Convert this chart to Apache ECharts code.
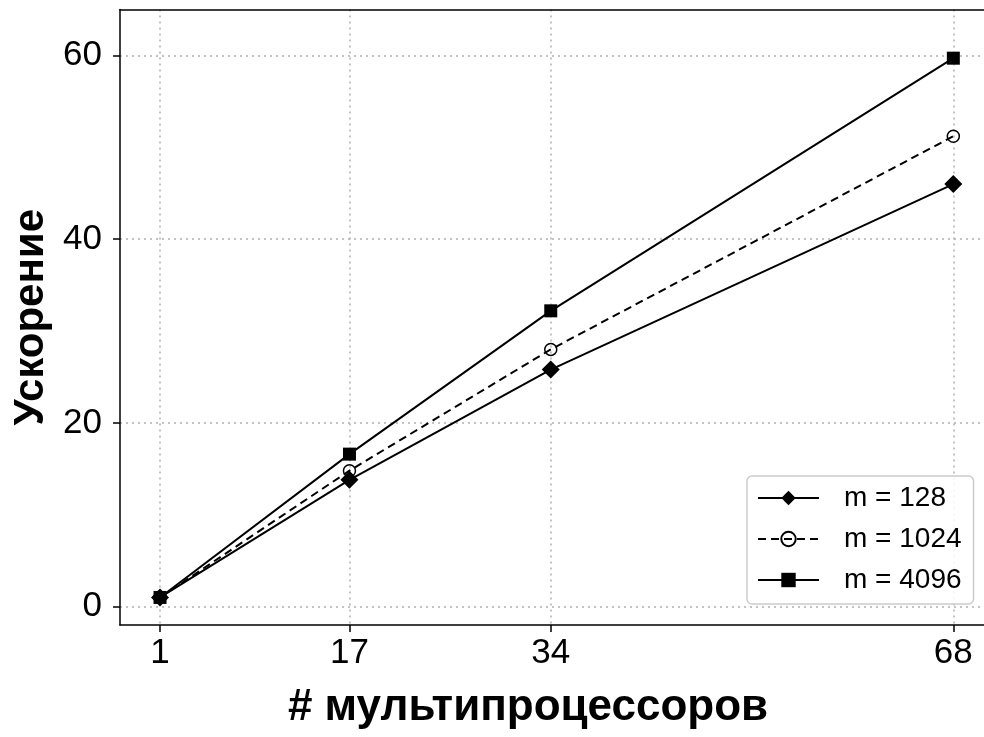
<!DOCTYPE html>
<html style="height: 100%">
<head>
    <meta charset="utf-8">
    <script src="https://cdn.jsdelivr.net/npm/echarts@6/dist/echarts.min.js"></script>
</head>
<body style="height: 100%; margin: 0; background: #fff">
<div id="container" style="width: 984px; height: 737px"></div>
<script type="text/javascript">
// multiprocessor counts and speedups per m
var procs = [1, 17, 34, 68];
var xTicks = [1, 17, 34, 68];
var yTicks = [0, 20, 40, 60];
var names = ['m = 128', 'm = 1024', 'm = 4096'];
var m128 = [1, 13.8, 25.8, 46.0];
var m1024 = [1, 14.8, 28.0, 51.2];
var m4096 = [1, 16.6, 32.2, 59.7];

var font = 'Liberation Sans, Arial, Helvetica, sans-serif';
var axisLineStyle = { color: '#000', width: 1.5 };
var gridLine = { show: true, lineStyle: { color: '#b0b0b0', width: 1.5, type: [2, 4] } };

function pairs(ys) {
    return procs.map(function (x, i) { return [x, ys[i]]; });
}

var dom = document.getElementById('container');
var myChart = echarts.init(dom, null, { renderer: 'canvas' });

var option = {
    animation: false,
    backgroundColor: '#fff',
    grid: { left: 120, right: 0, top: 9.5, bottom: 112 },
    xAxis: [{
        type: 'value',
        min: -2.38, max: 70.59,
        name: '# мультипроцессоров',
        nameLocation: 'middle',
        nameGap: 61,
        nameTextStyle: { fontFamily: font, fontSize: 44, fontWeight: 'bold', color: '#000', padding: [0, 48, 0, 0] },
        axisLine: { show: true, onZero: false, lineStyle: axisLineStyle },
        axisTick: { show: true, length: 7, lineStyle: axisLineStyle, customValues: xTicks },
        axisLabel: { fontFamily: font, fontSize: 35, color: '#000', margin: 11, customValues: xTicks },
        splitLine: gridLine
    }, {
        // top frame line only
        type: 'value', position: 'top',
        min: -2.38, max: 70.59,
        axisLine: { show: true, onZero: false, lineStyle: axisLineStyle },
        axisTick: { show: false },
        axisLabel: { show: false },
        splitLine: { show: false }
    }],
    yAxis: {
        type: 'value',
        min: -2, max: 65,
        name: 'Ускорение',
        nameLocation: 'middle',
        nameGap: 64,
        nameTextStyle: { fontFamily: font, fontSize: 42, fontWeight: 'bold', color: '#000' },
        axisLine: { show: true, onZero: false, lineStyle: axisLineStyle },
        axisTick: { show: true, length: 7, lineStyle: axisLineStyle, customValues: yTicks },
        axisLabel: { fontFamily: font, fontSize: 35, color: '#000', margin: 18, customValues: yTicks },
        splitLine: gridLine
    },
    legend: {
        orient: 'vertical',
        left: 747, top: 476,
        data: names,
        itemWidth: 61, itemHeight: 18, itemGap: 13,
        padding: [8, 12, 10, 10],
        borderColor: '#cccccc', borderWidth: 1.5, borderRadius: 5,
        backgroundColor: 'rgba(255,255,255,0.85)',
        textStyle: { fontFamily: font, fontSize: 28, color: '#000', padding: [0, 0, 0, 20] }
    },
    series: [
        {
            name: names[0], type: 'line', data: pairs(m128),
            symbol: 'diamond', symbolSize: 18,
            itemStyle: { color: '#000' },
            lineStyle: { color: '#000', width: 2 }
        },
        {
            name: names[1], type: 'line', data: pairs(m1024),
            symbol: 'circle', symbolSize: 12,
            itemStyle: { color: 'transparent', borderColor: '#000', borderWidth: 1.5 },
            lineStyle: { color: '#000', width: 2, type: [8, 5] }
        },
        {
            name: names[2], type: 'line', data: pairs(m4096),
            symbol: 'rect', symbolSize: 13,
            itemStyle: { color: '#000' },
            lineStyle: { color: '#000', width: 2 }
        }
    ]
};

myChart.setOption(option);
window.onresize = function () {
    myChart.resize();
};
</script>
</body>
</html>
